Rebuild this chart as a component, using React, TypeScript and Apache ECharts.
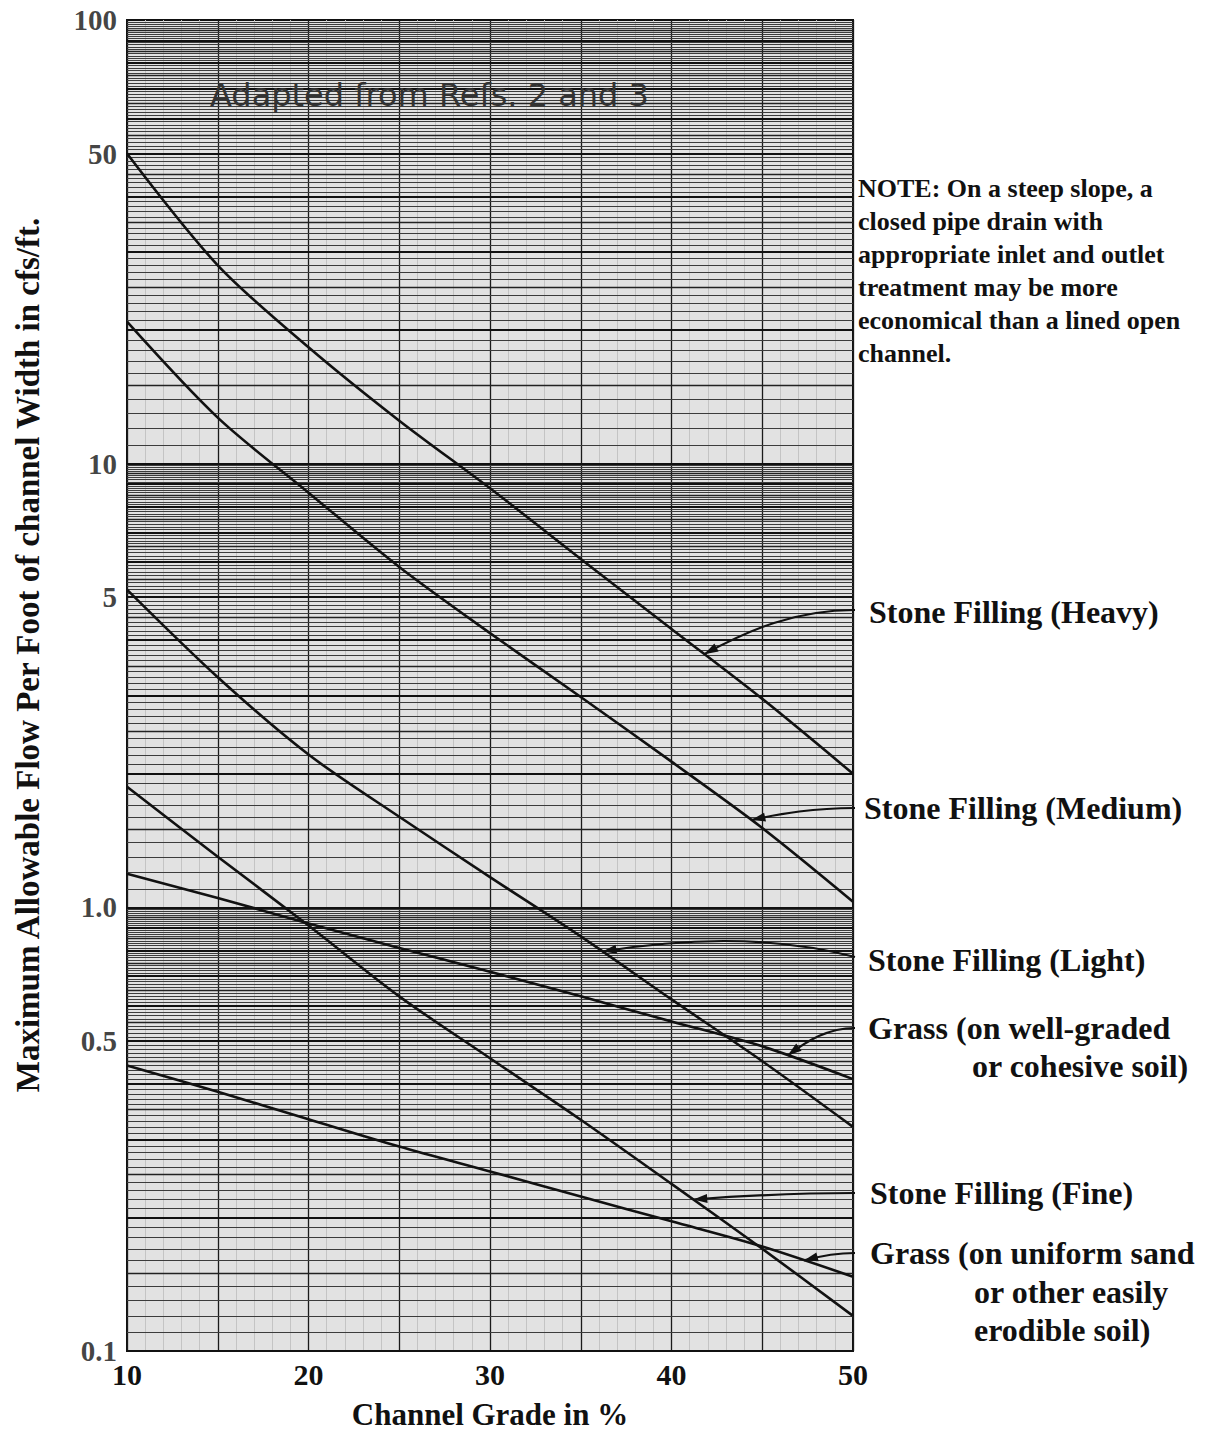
import React, { useEffect, useRef } from "react";
import * as echarts from "echarts";

// ---- data ----
const gradePct = [10, 15, 20, 25, 30, 35, 40, 45, 50];
const stoneHeavy = [50, 28, 18.3, 12.5, 8.8, 6.1, 4.24, 2.95, 2.0];
const stoneMedium = [20.9, 12.7, 8.6, 5.85, 4.15, 2.98, 2.13, 1.51, 1.03];
const stoneLight = [5.2, 3.3, 2.21, 1.6, 1.17, 0.86, 0.62, 0.45, 0.32];
const grassWellGraded = [1.19, 1.05, 0.92, 0.81, 0.716, 0.63, 0.553, 0.486, 0.41];
const stoneFine = [1.87, 1.3, 0.91, 0.63, 0.457, 0.332, 0.238, 0.17, 0.12];
const grassUniformSand = [0.44, 0.384, 0.333, 0.289, 0.254, 0.223, 0.196, 0.172, 0.147];

const seriesNames = [
  "Stone Filling (Heavy)",
  "Stone Filling (Medium)",
  "Stone Filling (Light)",
  "Grass (on well-graded or cohesive soil)",
  "Stone Filling (Fine)",
  "Grass (on uniform sand or other easily erodible soil)",
];
const seriesValues = [stoneHeavy, stoneMedium, stoneLight, grassWellGraded, stoneFine, grassUniformSand];

const yTickValues = [100, 50, 10, 5, 1, 0.5, 0.1];
const yTickLabels = ["100", "50", "10", "5", "1.0", "0.5", "0.1"];

const curveLabelLines = [
  ["Stone Filling (Heavy)"],
  ["Stone Filling (Medium)"],
  ["Stone Filling (Light)"],
  ["Grass (on well-graded", "or cohesive soil)"],
  ["Stone Filling (Fine)"],
  ["Grass (on uniform sand", "or other easily", "erodible soil)"],
];
// grade (%) at which each leader arrow touches its curve
const arrowTargetGrade = [41.8, 44.4, 36.2, 46.4, 41.2, 47.3];

const noteText =
  "NOTE: On a steep slope, a\nclosed pipe drain with\nappropriate inlet and outlet\ntreatment may be more\neconomical than a lined open\nchannel.";
const creditText = "Adapted from Refs. 2 and 3";
const xTitle = "Channel Grade in %";
const yTitle = "Maximum Allowable Flow Per Foot of channel Width in cfs/ft.";

// ---- layout (pixels) ----
const labelLayout = [
  { y: 612, lineY: 610, dx: 14, arch: 0 },
  { y: 808, lineY: 808, dx: 9, arch: 0 },
  { y: 960, lineY: 957, dx: 13, arch: 20 },
  { y: 1028, lineY: 1028, dx: 13, arch: 0, indent: 104, lineGap: 38 },
  { y: 1193, lineY: 1193, dx: 15, arch: 0 },
  { y: 1253, lineY: 1253, dx: 15, arch: 0, indent: 104, lineGap: 38.5 },
];

const SERIF = '"Liberation Serif", "Times New Roman", serif';

function valueAt(vals: number[], x: number) {
  for (let i = 0; i < gradePct.length - 1; i++) {
    const a = gradePct[i];
    const b = gradePct[i + 1];
    if (x >= a && x <= b) {
      const t = (x - a) / (b - a);
      const la = Math.log10(vals[i]);
      const lb = Math.log10(vals[i + 1]);
      return Math.pow(10, la + (lb - la) * t);
    }
  }
  return vals[vals.length - 1];
}

export default function App() {
  const ref = useRef<HTMLDivElement>(null);

  useEffect(() => {
    document.body.style.margin = "0";
    const chart = echarts.init(ref.current!, null, { renderer: "svg" });

    const gridLines: any[] = [];
    [0.1, 1, 10].forEach((dec) => {
      for (let k = 10; k < 100; k++) {
        const v = +((k * dec) / 10).toPrecision(6);
        const major = k % 10 === 0;
        const mid = k % 5 === 0;
        gridLines.push({
          yAxis: v,
          lineStyle: {
            color: major ? "#111111" : mid ? "#222222" : "#3c3c3c",
            width: major ? 1.8 : mid ? 1.4 : 1,
            type: "solid",
          },
        });
      }
    });

    const curveSeries = seriesValues.map((vals, i) => ({
      name: seriesNames[i],
      type: "line",
      data: gradePct.map((g, j) => [g, vals[j]]),
      smooth: 0.3,
      showSymbol: false,
      symbol: "none",
      z: 5,
      lineStyle: { color: "#111", width: 2.6 },
    }));

    chart.setOption({
      animation: false,
      backgroundColor: "#ffffff",
      grid: {
        left: 127,
        top: 20,
        width: 726,
        height: 1337,
        show: true,
        backgroundColor: "#e2e2e2",
        borderColor: "#111",
        borderWidth: 2,
      },
      xAxis: {
        type: "value",
        min: 10,
        max: 50,
        interval: 5,
        name: xTitle,
        nameLocation: "middle",
        nameGap: 48,
        nameTextStyle: { fontFamily: SERIF, fontWeight: "bold", fontSize: 31, color: "#111" },
        axisLine: { show: false },
        axisTick: { show: false },
        axisLabel: {
          margin: 8,
          fontFamily: SERIF,
          fontWeight: "bold",
          fontSize: 30,
          color: "#111",
          formatter: (v: number) => (v % 10 === 0 ? String(v) : ""),
        },
        splitLine: { show: true, lineStyle: { color: "#1a1a1a", width: 1.3 } },
        minorTick: { show: false, splitNumber: 5 },
        minorSplitLine: { show: true, lineStyle: { color: "#c4c4c4", width: 1 } },
      },
      yAxis: {
        type: "log",
        logBase: 10,
        min: 0.1,
        max: 100,
        axisLine: { show: false },
        axisTick: { show: false },
        axisLabel: { show: false },
        splitLine: { show: false },
      },
      series: [
        {
          name: "ticks",
          type: "scatter",
          data: yTickValues.map((v, i) => ({ value: [10, v], label: { formatter: yTickLabels[i] } })),
          symbolSize: 0,
          silent: true,
          z: 1,
          label: {
            show: true,
            position: "left",
            distance: 10,
            fontFamily: SERIF,
            fontWeight: "bold",
            fontSize: 29,
            color: "#111",
          },
          markLine: {
            silent: true,
            symbol: ["none", "none"],
            label: { show: false },
            data: gridLines,
            z: 1,
          },
        },
        ...curveSeries,
      ],
    });

    // annotations anchored to the data
    const fin = { xAxisIndex: 0, yAxisIndex: 0 };
    const right = (chart.convertToPixel(fin, [50, 1]) as number[])[0];
    const graphics: any[] = [];

    labelLayout.forEach((lay, i) => {
      const g = arrowTargetGrade[i];
      const v = valueAt(seriesValues[i], g);
      const [tx, ty] = chart.convertToPixel(fin, [g, v]) as number[];
      const sx = right + 2;
      const sy = lay.lineY;
      const dx = sx - tx;
      const dy = ty - sy;
      let cp1x, cp1y, cp2x, cp2y;
      if (lay.arch) {
        cp1x = sx - 0.3 * dx;
        cp1y = sy - lay.arch;
        cp2x = tx + 0.35 * dx;
        cp2y = sy - lay.arch;
      } else {
        cp1x = sx - 0.4 * dx;
        cp1y = sy;
        cp2x = tx + 0.3 * dx;
        cp2y = ty - 0.55 * dy;
      }
      graphics.push({
        type: "bezierCurve",
        z: 20,
        shape: { x1: sx, y1: sy, x2: tx, y2: ty, cpx1: cp1x, cpy1: cp1y, cpx2: cp2x, cpy2: cp2y },
        style: { stroke: "#111", lineWidth: 2.2, fill: null },
      });
      // arrow head
      const ax = tx - cp2x;
      const ay = ty - cp2y;
      const len = Math.hypot(ax, ay) || 1;
      const ux = ax / len;
      const uy = ay / len;
      const L = 14;
      const W = 4.5;
      const bx = tx - ux * L;
      const by = ty - uy * L;
      graphics.push({
        type: "polygon",
        z: 21,
        shape: {
          points: [
            [tx, ty],
            [bx - uy * W, by + ux * W],
            [bx + uy * W, by - ux * W],
          ],
        },
        style: { fill: "#111" },
      });
      const lines = curveLabelLines[i];
      lines.forEach((txt, k) => {
        graphics.push({
          type: "text",
          z: 22,
          x: sx + lay.dx + (k > 0 ? lay.indent || 0 : 0),
          y: lay.y + (k > 0 ? (lay.lineGap || 38) * k : 0),
          style: {
            text: txt,
            font: `bold 32px ${SERIF}`,
            fill: "#111",
            textAlign: "left",
            textVerticalAlign: "middle",
          },
        });
      });
    });

    graphics.push({
      type: "text",
      z: 22,
      x: right + 5,
      y: 172,
      style: {
        text: noteText,
        font: `bold 26px ${SERIF}`,
        lineHeight: 33,
        fill: "#111",
        textAlign: "left",
        textVerticalAlign: "top",
      },
    });
    graphics.push({
      type: "text",
      z: 22,
      x: 210,
      y: 95,
      style: {
        text: creditText,
        font: `32px "DejaVu Sans", sans-serif`,
        fill: "#333333",
        textAlign: "left",
        textVerticalAlign: "middle",
      },
    });
    graphics.push({
      type: "text",
      z: 22,
      x: 28,
      y: 655,
      rotation: Math.PI / 2,
      style: {
        text: yTitle,
        font: `bold 33px ${SERIF}`,
        fill: "#111",
        textAlign: "center",
        textVerticalAlign: "middle",
      },
    });

    chart.setOption({ graphic: graphics });

    return () => chart.dispose();
  }, []);

  return <div ref={ref} style={{ width: 1212, height: 1435 }} />;
}
